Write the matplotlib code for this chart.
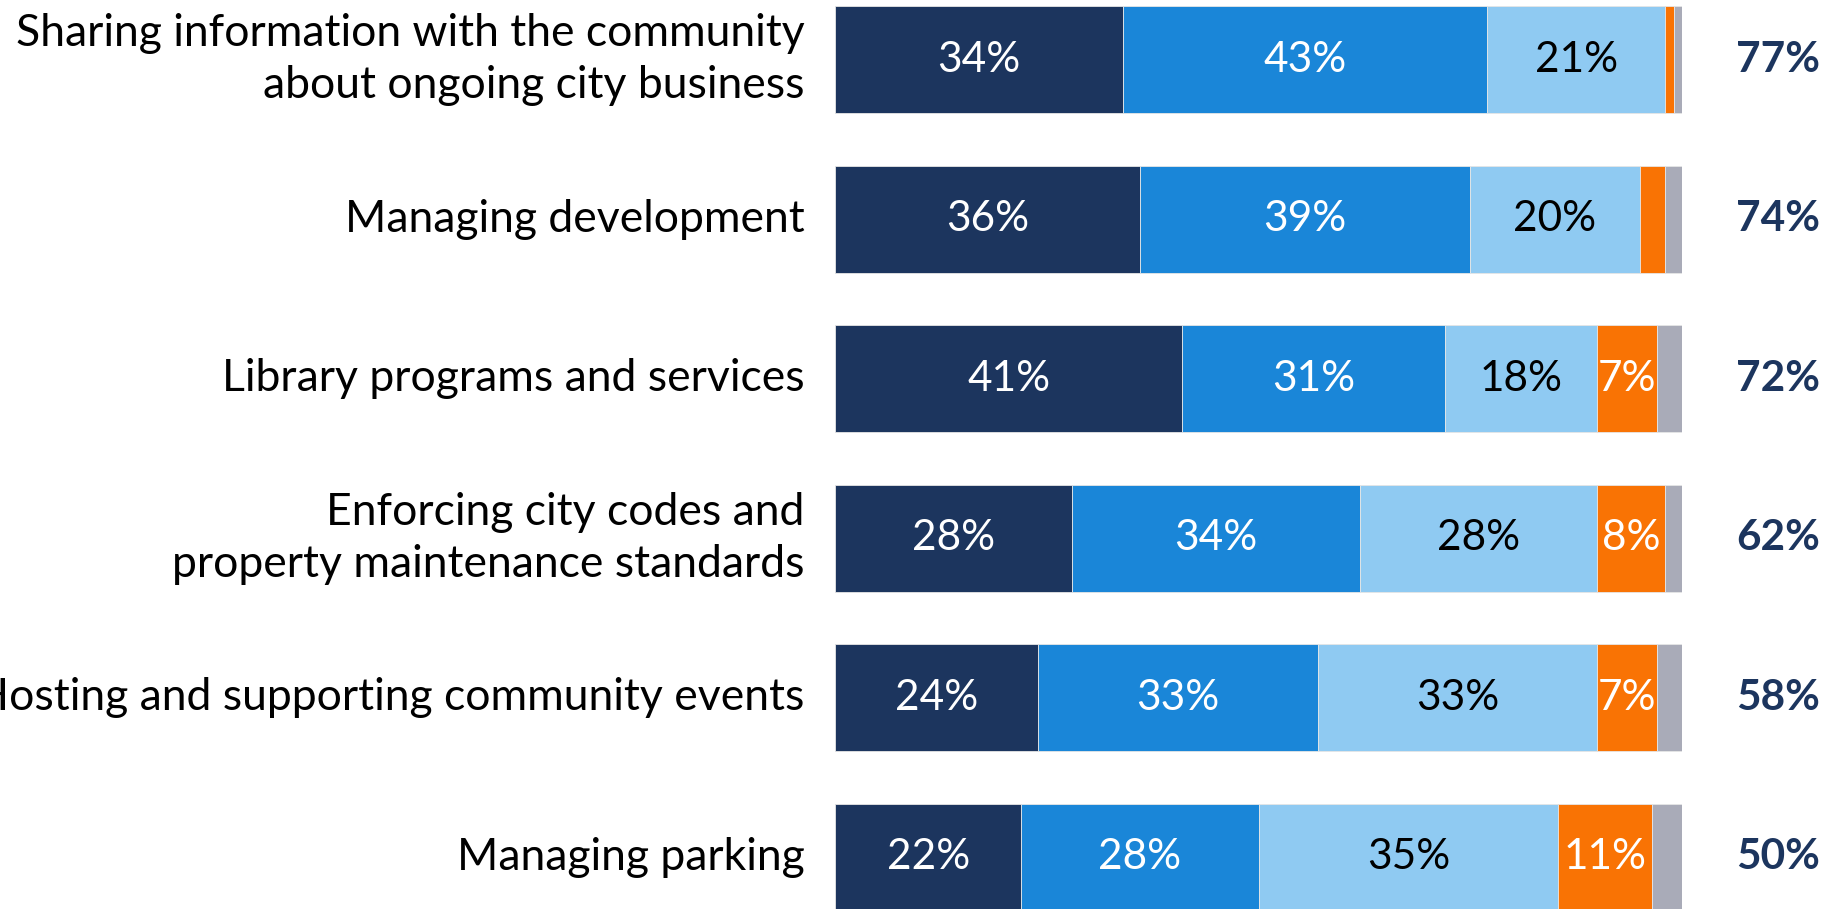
import numpy as np
import matplotlib
matplotlib.use('Agg')
import matplotlib.pyplot as plt

# Font setup
plt.rcParams['font.family'] = ['Lato', 'DejaVu Sans']

# ------------------------------------------------------
# DATA
# ------------------------------------------------------
categories = ['Sharing information with the community\nabout ongoing city business',
              'Managing development',
              'Library programs and services',
              'Enforcing city codes and\nproperty maintenance standards',
              'Hosting and supporting community events',
              'Managing parking']
very_good = [34, 36, 41, 28, 24, 22]
good = [43, 39, 31, 34, 33, 28]
neutral = [21, 20, 18, 28, 33, 35.4]
poor = [1, 3, 7, 8, 7, 11]
dont_know = [1, 2, 3, 2, 3, 3.6]
totals = ['77%', '74%', '72%', '62%', '58%', '50%']

series = [very_good, good, neutral, poor, dont_know]
colors = ['#1C355E', '#1A86D8', '#8FCAF2', '#F97304', '#A9ABB8']
text_colors = ['white', 'white', 'black', 'white', None]

# ------------------------------------------------------
# PLOT
# ------------------------------------------------------
fig = plt.figure(figsize=(18.28, 9.09), dpi=100)
ax = fig.add_axes([835/1828, 0, 847/1828, 1])

y = np.arange(len(categories))
left = np.zeros(len(categories))
for vals, col, tcol in zip(series, colors, text_colors):
    vals = np.array(vals, dtype=float)
    ax.barh(y, vals, left=left, height=0.67, color=col, edgecolor='#E6E6E6', linewidth=0.6)
    if tcol is not None:
        for i, v in enumerate(vals):
            if v >= 5:
                ax.text(left[i] + v/2, y[i], '%.0f%%' % v, ha='center', va='center',
                        color=tcol, fontsize=30.5)
    left += vals

# Category labels on the left
for i, lab in enumerate(categories):
    ax.annotate(lab, xy=(0, y[i]), xytext=(-22, 0), textcoords='offset points',
                ha='right', va='center', fontsize=32, color='black',
                linespacing=1.34, annotation_clip=False)

# Totals on the right
for i, t in enumerate(totals):
    ax.text(111.3, y[i], t, ha='center', va='center', color='#1C355E',
            fontsize=30.5, fontweight='bold', clip_on=False)

ax.set_xlim(0, 100)
ax.set_ylim(5.323, -0.373)
ax.set_xticks([])
ax.set_yticks([])
for s in ax.spines.values():
    s.set_visible(False)

fig.savefig('out.png', dpi=100)
